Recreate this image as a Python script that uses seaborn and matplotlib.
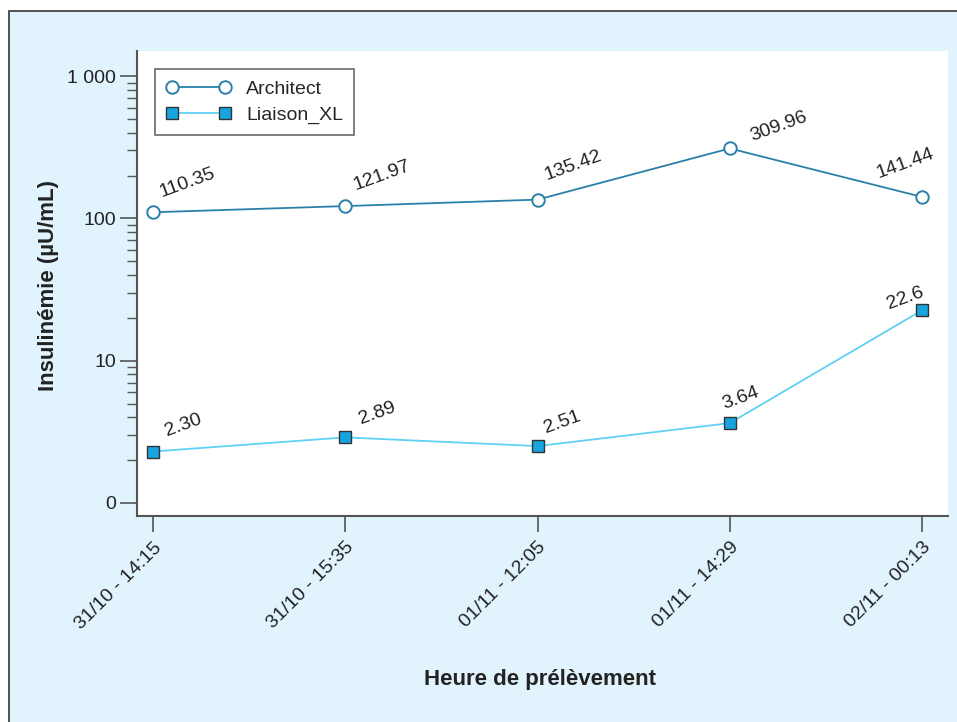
import pandas as pd
import matplotlib
matplotlib.use("Agg")
import matplotlib.pyplot as plt
import seaborn as sns
from matplotlib.patches import Rectangle
from matplotlib.ticker import FixedLocator, NullFormatter

# données
heures = ["31/10 - 14:15", "31/10 - 15:35", "01/11 - 12:05", "01/11 - 14:29", "02/11 - 00:13"]
architect = [110.35, 121.97, 135.42, 309.96, 141.44]
liaison_xl = [2.30, 2.89, 2.51, 3.64, 22.6]
labels_arch = ["110.35", "121.97", "135.42", "309.96", "141.44"]
labels_liai = ["2.30", "2.89", "2.51", "3.64", "22.6"]

y_ticks = [1, 10, 100, 1000]
y_ticklabels = ["0", "10", "100", "1 000"]

# décalages des étiquettes (pixels)
off_arch = [(10, 12), (12, 12), (10, 16), (24, 4), (14, 36)]
off_liai = [(15, 12), (17, 10), (10, 9), (-4, 10), (4, 11)]

sns.set_style("ticks")
plt.rcParams["font.family"] = ["Liberation Sans", "DejaVu Sans"]

df = pd.DataFrame({"heure": heures, "Architect": architect, "Liaison_XL": liaison_xl})

fig = plt.figure(figsize=(9.57, 7.22), dpi=100)
fig.patch.set_facecolor("white")
# cadre bleu clair autour du graphique
fig.patches.append(Rectangle((9 / 957, -0.01), 1.0, 1 - 11 / 722 + 0.01,
                             transform=fig.transFigure, facecolor="#e1f3fc",
                             edgecolor="#333333", linewidth=1.2, zorder=-5))

ax = fig.add_axes([137 / 957, 1 - 516 / 722, (948 - 137) / 957, (516 - 51) / 722])
ax.set_facecolor("white")

c_arch = "#2b80aa"
c_liai = "#60d0f4"
sns.lineplot(data=df, x="heure", y="Architect", ax=ax, color=c_arch, lw=1.3,
             marker="o", markersize=9, markerfacecolor="white",
             markeredgecolor=c_arch, markeredgewidth=1.4, label="Architect", sort=False)
sns.lineplot(data=df, x="heure", y="Liaison_XL", ax=ax, color=c_liai, lw=1.3,
             marker="s", markersize=8.5, markerfacecolor="#17a5e0",
             markeredgecolor="#333333", markeredgewidth=1.0, label="Liaison_XL", sort=False)

ax.set_yscale("log")
ax.set_ylim(0.81, 1500)
ax.set_xlim(-0.083, 4.135)

ax.yaxis.set_major_locator(FixedLocator(y_ticks))
ax.set_yticklabels(y_ticklabels)
minor = [m * 10 ** e for e in range(0, 3) for m in range(2, 10)]
ax.yaxis.set_minor_locator(FixedLocator(minor))
ax.yaxis.set_minor_formatter(NullFormatter())

ax.tick_params(axis="y", which="major", length=12, width=1.2, color="#555555",
               labelsize=14, labelcolor="#222222", pad=3)
ax.tick_params(axis="y", which="minor", length=7, width=1.0, color="#555555")
ax.tick_params(axis="x", which="major", length=11.5, width=1.2, color="#555555",
               labelsize=14, labelcolor="#222222", pad=5)
plt.setp(ax.get_xticklabels(), rotation=45, ha="right", rotation_mode="anchor")

sns.despine(ax=ax)
for s in ["left", "bottom"]:
    ax.spines[s].set_color("#555555")
    ax.spines[s].set_linewidth(1.5)

ax.set_xlabel("Heure de prélèvement", fontsize=16, fontweight="bold", color="#222222")
ax.set_ylabel("Insulinémie (µU/mL)", fontsize=16, fontweight="bold", color="#222222")
ax.xaxis.set_label_coords(0.497, -0.329)
ax.yaxis.set_label_coords(-0.096, 0.495)

# étiquettes de valeurs
for serie, labs, offs in [(architect, labels_arch, off_arch), (liaison_xl, labels_liai, off_liai)]:
    for i, (v, t) in enumerate(zip(serie, labs)):
        last = i == len(serie) - 1
        ax.annotate(t, (i, v), xytext=offs[i], textcoords="offset pixels",
                    ha="right" if last else "left", va="bottom", rotation=20,
                    rotation_mode="anchor", fontsize=14, color="#222222")

leg = ax.legend(loc="upper left", numpoints=2, fontsize=14, frameon=True,
                fancybox=False, edgecolor="#444444", handlelength=3.3,
                borderaxespad=0.95, borderpad=0.55, labelspacing=0.45)
leg.get_frame().set_linewidth(1.2)

fig.savefig("out.png", dpi=100)
